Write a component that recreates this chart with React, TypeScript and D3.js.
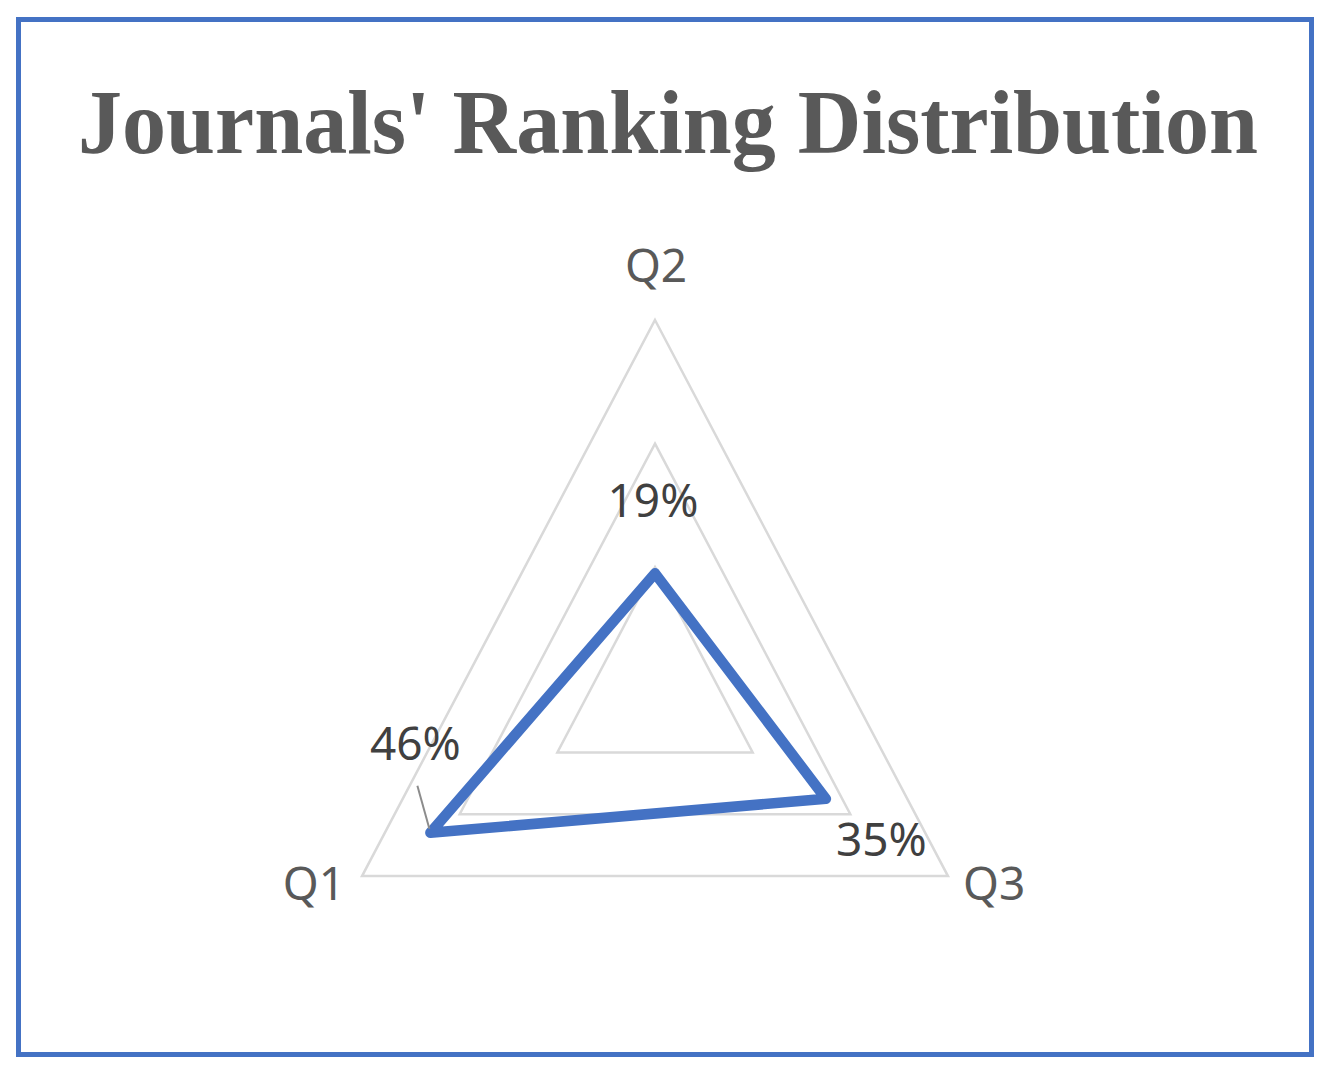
import React from 'react';
import * as d3 from 'd3';

// chart data
const categories = ['Q2', 'Q3', 'Q1'];
const values = [0.19, 0.35, 0.46];
const gridLevels = [0.2, 0.4, 0.6];
const title = "Journals' Ranking Distribution";

const W = 1332;
const H = 1071;
const cx = 655;
const cy = 690.7;
const R = 370.7;
const kx = 0.9126; // the original picture is a bit squeezed horizontally

const rScale = d3.scaleLinear().domain([0, 0.6]).range([0, R]);
const angle = d3.scaleLinear().domain([0, categories.length]).range([0, 2 * Math.PI]);

const pt = (i: number, v: number): [number, number] => {
    const a = angle(i);
    const r = rScale(v);
    return [cx + r * Math.sin(a) * kx, cy - r * Math.cos(a)];
};

const closedLine = d3.line<[number, number]>().curve(d3.curveLinearClosed);

const labelFont = "'Noto Sans', 'Open Sans', sans-serif";

const App = () => {
    const dataPts = values.map((v, i) => pt(i, v));

    // axis label placement, per axis
    const axisLabelPos = categories.map((c, i) => {
        const [x, y] = pt(i, 0.6);
        if (i === 0) return { x: x + 1, y: y - 38, anchor: 'middle' };
        if (i === 1) return { x: x + 15, y: y + 24, anchor: 'start' };
        return { x: x - 17, y: y + 24, anchor: 'end' };
    });

    const dataLabelPos = values.map((v, i) => {
        const [x, y] = dataPts[i];
        if (i === 0) return { x: x - 2, y: y - 56, anchor: 'middle' };
        if (i === 1) return { x: x + 10, y: y + 57, anchor: 'start' };
        return { x: x - 15, y: y - 73, anchor: 'middle' };
    });

    return (
        <svg width={W} height={H} style={{ position: 'absolute', left: 0, top: 0, background: '#fff' }}>
            <rect x={18.5} y={19.5} width={1293} height={1035} fill="#fff" stroke="#4472C4" strokeWidth={5} />

            <text x={668} y={153} textAnchor="middle" fill="#595959"
                fontFamily="'Liberation Serif', 'DejaVu Serif', serif" fontWeight="bold" fontSize={90}
                textLength={1180} lengthAdjust="spacingAndGlyphs">
                {title}
            </text>

            {gridLevels.map(l => (
                <path key={l}
                    d={closedLine(categories.map((c, i) => pt(i, l))) || ''}
                    fill="none" stroke="#d9d9d9" strokeWidth={2.5} />
            ))}

            <path d={closedLine(dataPts) || ''} fill="none" stroke="#4472C4" strokeWidth={10.5}
                strokeLinejoin="round" />

            {/* leader line for the Q1 label */}
            <line x1={dataPts[2][0] - 13} y1={dataPts[2][1] - 47} x2={dataPts[2][0] - 1} y2={dataPts[2][1] - 4}
                stroke="#8c8c8c" strokeWidth={2} />

            {categories.map((c, i) => (
                <text key={c} x={axisLabelPos[i].x} y={axisLabelPos[i].y} textAnchor={axisLabelPos[i].anchor}
                    fill="#595959" fontFamily={labelFont} fontSize={46}>
                    {c}
                </text>
            ))}

            {values.map((v, i) => (
                <text key={i} x={dataLabelPos[i].x} y={dataLabelPos[i].y} textAnchor={dataLabelPos[i].anchor}
                    fill="#404040" fontFamily={labelFont} fontSize={46}>
                    {d3.format('.0%')(v)}
                </text>
            ))}
        </svg>
    );
};

export default App;
